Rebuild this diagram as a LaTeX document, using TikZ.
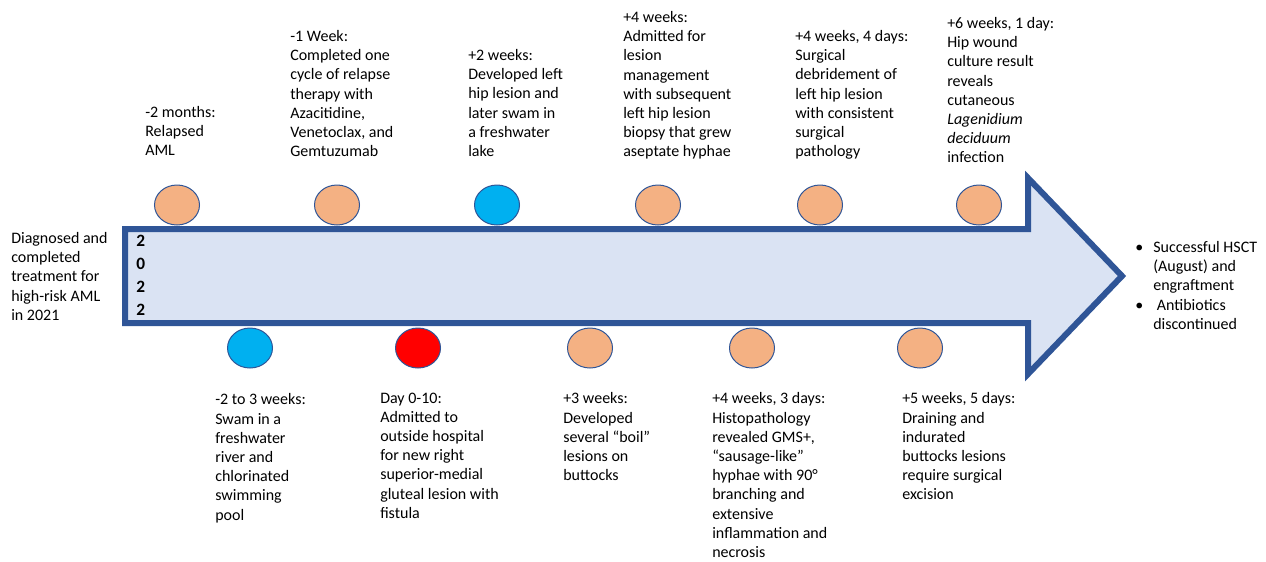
\documentclass[tikz,border=0pt]{standalone}
\usepackage{fontspec}
\setmainfont{Carlito}
\usetikzlibrary{shapes.geometric}
\definecolor{arrowfill}{HTML}{DAE3F3}
\definecolor{arrowline}{HTML}{2F5597}
\definecolor{lesion}{HTML}{F4B183}
\definecolor{water}{HTML}{00B0F0}
\definecolor{alarm}{HTML}{FF0000}

\begin{document}
\begin{tikzpicture}[x=0.75pt, y=-0.75pt,
	every node/.style={font=\fontsize{12}{14.4}\selectfont},
	note/.style={align=left, anchor=north west, inner sep=0pt, yshift=-1.9pt, execute at begin node=\strut},
	dot/.style={ellipse, draw=arrowline, line width=0.75pt, minimum width=33.75pt, minimum height=30pt, inner sep=0pt}]
	\useasboundingbox (0,0) rectangle (1266,561);
	% timeline arrow
	\draw[arrowline, fill=arrowfill, line width=4.5pt, line join=miter]
		(125,229) -- (1028,229) -- (1028,178) -- (1122,276) -- (1028,374) -- (1028,323) -- (125,323) -- cycle;
	\node[note, font=\fontsize{13}{17.4}\selectfont\bfseries] (year) at (136,232) {2\\0\\2\\2};
	% events
	\foreach \n/\x/\y/\c in {a/177/205/lesion, b/337/205/lesion, c/497/205/water, d/658/205/lesion,
		e/820/205/lesion, f/979/205/lesion, g/250/348/water, h/418/348/alarm, i/590/348/lesion,
		j/752/348/lesion, k/920/348/lesion}
		\node[dot, fill=\c] (dot\n) at (\x,\y) {};
	\node[note] (start) at (11,229.6) {Diagnosed and\\completed\\treatment for\\high-risk AML\\in 2021};
	\node[note] (txta) at (145,103.6) {-2 months:\\Relapsed\\AML};
	\node[note] (txtb) at (290,27.6) {-1 Week:\\Completed one\\cycle of relapse\\therapy with\\Azacitidine,\\Venetoclax, and\\Gemtuzumab};
	\node[note] (txtc) at (468,46.6) {+2 weeks:\\Developed left\\hip lesion and\\later swam in\\a freshwater\\lake};
	\node[note] (txtd) at (623,8.6) {+4 weeks:\\Admitted for\\lesion\\management\\with subsequent\\left hip lesion\\biopsy that grew\\aseptate hyphae};
	\node[note] (txte) at (795,27.6) {+4 weeks, 4 days:\\Surgical\\debridement of\\left hip lesion\\with consistent\\surgical\\pathology};
	\node[note] (txtf) at (947,14.6) {+6 weeks, 1 day:\\Hip wound\\culture result\\reveals\\cutaneous\\\textit{Lagenidium}\\\textit{deciduum}\\infection};
	\node[note] (txtg) at (215,391) {-2 to 3 weeks:\\Swam in a\\freshwater\\river and\\chlorinated\\swimming\\pool};
	\node[note] (txth) at (380,390) {Day 0-10:\\Admitted to\\outside hospital\\for new right\\superior-medial\\gluteal lesion with\\fistula};
	\node[note] (txti) at (563,390) {+3 weeks:\\Developed\\several “boil”\\lesions on\\buttocks};
	\node[note] (txtj) at (712,390) {+4 weeks, 3 days:\\Histopathology\\revealed GMS+,\\“sausage-like”\\hyphae with 90°\\branching and\\extensive\\inflammation and\\necrosis};
	\node[note] (txtk) at (902,390) {+5 weeks, 5 days:\\Draining and\\indurated\\buttocks lesions\\require surgical\\excision};
	\node[note] (after) at (1135,238.6) {\makebox[13.5pt][l]{•}Successful HSCT\\\hspace*{13.5pt}(August) and\\\hspace*{13.5pt}engraftment\\\makebox[13.5pt][l]{•} Antibiotics\\\hspace*{13.5pt}discontinued};
\end{tikzpicture}
\end{document}
